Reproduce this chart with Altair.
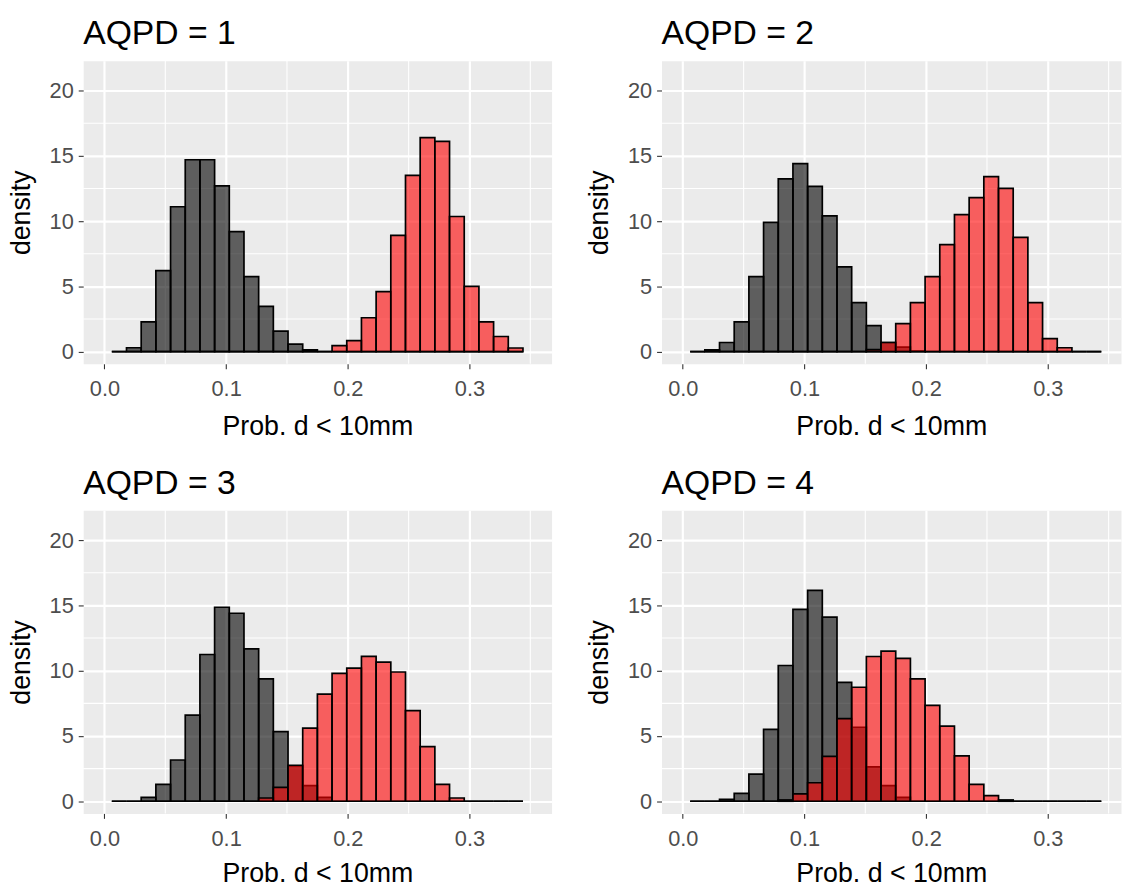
import altair as alt
import pandas as pd

FONT = "Liberation Sans"

# histogram: 30 bins over xlim(0, 0.35); the two end bins fall outside the limits -> 28 bars
BIN_WIDTH = 0.35 / 29
BIN_INDEX = list(range(1, 29))

X_TICKS = [0.0, 0.1, 0.2, 0.3]
X_MINOR = [0.05, 0.15, 0.25, 0.35]
Y_TICKS = [0, 5, 10, 15, 20]
Y_MINOR = [2.5, 7.5, 12.5, 17.5]

titles = ["AQPD = 1", "AQPD = 2", "AQPD = 3", "AQPD = 4"]

black_1 = [0, 0.3, 2.28, 6.2, 11.1, 14.7, 14.7, 12.7, 9.2, 5.75, 3.47, 1.57, 0.58, 0.13,
           0, 0, 0, 0, 0, 0, 0, 0, 0, 0, 0, 0, 0, 0]
red_1 = [0, 0, 0, 0, 0, 0, 0, 0, 0, 0, 0, 0, 0, 0, 0,
         0.46, 0.84, 2.6, 4.6, 8.9, 13.5, 16.4, 16.1, 10.35, 5.0, 2.28, 1.16, 0.28]

black_2 = [0, 0.13, 0.7, 2.28, 5.75, 9.9, 13.24, 14.4, 12.66, 10.4, 6.5, 3.75, 2.0, 0.7,
           0.35, 0.05, 0, 0, 0, 0, 0, 0, 0, 0, 0, 0, 0, 0]
red_2 = [0, 0, 0, 0, 0, 0, 0, 0, 0, 0, 0, 0, 0.15, 0.7, 2.15, 3.75, 5.75, 8.2, 10.5,
         11.8, 13.4, 12.5, 8.76, 3.75, 1.0, 0.3, 0, 0]

black_3 = [0, 0, 0.3, 1.3, 3.16, 6.6, 11.24, 14.86, 14.4, 11.67, 9.37, 5.34, 2.7, 1.2,
           0.3, 0, 0, 0, 0, 0, 0, 0, 0, 0, 0, 0, 0, 0]
red_3 = [0, 0, 0, 0, 0, 0, 0, 0, 0, 0, 0.25, 1.06, 2.76, 5.6, 8.2, 9.8, 10.2, 11.1,
         10.66, 9.9, 6.94, 4.18, 1.3, 0.25, 0, 0, 0, 0]

black_4 = [0, 0, 0.15, 0.6, 2.08, 5.5, 10.4, 14.7, 16.15, 14.1, 9.1, 5.67, 2.63, 1.2,
           0.3, 0, 0, 0, 0, 0, 0, 0.1, 0, 0, 0, 0, 0, 0]
red_4 = [0, 0, 0, 0, 0, 0, 0.1, 0.56, 1.42, 3.44, 6.33, 8.73, 11.09, 11.5, 10.94, 9.37,
         7.34, 5.75, 3.47, 1.29, 0.43, 0, 0, 0, 0, 0, 0, 0]

blacks = [black_1, black_2, black_3, black_4]
reds = [red_1, red_2, red_3, red_4]

X_MIN = -0.0175
PX_PER_UNIT = 473 / 0.385
LEFT_W = 473
RIGHT_W = 464
Y_DOMAIN = [-0.93, 22.28]
PANEL_H = 306


def make_panel(idx):
    right = idx % 2 == 1
    bottom_row = idx >= 2
    width = RIGHT_W if right else LEFT_W
    xmax = X_MIN + width / PX_PER_UNIT
    lo = [(i - 0.5) * BIN_WIDTH for i in BIN_INDEX]
    hi = [(i + 0.5) * BIN_WIDTH for i in BIN_INDEX]
    df = pd.DataFrame({"lo": lo, "hi": hi, "black": blacks[idx], "red": reds[idx]})

    xscale = alt.Scale(domain=[X_MIN, xmax], nice=False, zero=False)
    yscale = alt.Scale(domain=Y_DOMAIN, nice=False, zero=False)

    xaxis = alt.Axis(orient="bottom", values=X_TICKS, format=".1f", title="Prob. d < 10mm",
                     grid=True, gridColor="white", gridWidth=2.2, domain=False,
                     tickColor="#333333", tickWidth=1.1, tickSize=5,
                     labelColor="#4D4D4D", labelFontSize=22, labelFont=FONT, labelPadding=10,
                     titleFont=FONT, titleFontSize=27, titleColor="black",
                     titleFontWeight="normal", titlePadding=12 if bottom_row else 14)
    yaxis = alt.Axis(orient="left", values=Y_TICKS, title="density",
                     grid=True, gridColor="white", gridWidth=2.2, domain=False,
                     tickColor="#333333", tickWidth=1.1, tickSize=5,
                     labelColor="#4D4D4D", labelFontSize=22, labelFont=FONT, labelPadding=5,
                     titleFont=FONT, titleFontSize=27, titleColor="black",
                     titleFontWeight="normal", titlePadding=14)

    minor_x = alt.Chart(pd.DataFrame({"v": X_MINOR})).mark_rule(
        color="white", strokeWidth=1.1).encode(x=alt.X("v:Q", scale=xscale, axis=xaxis))
    minor_y = alt.Chart(pd.DataFrame({"v": Y_MINOR})).mark_rule(
        color="white", strokeWidth=1.1).encode(y=alt.Y("v:Q", scale=yscale, axis=yaxis))

    base = alt.Chart(df)
    black = base.mark_rect(fill="black", fillOpacity=0.6, stroke="black",
                           strokeWidth=1.7).encode(
        x=alt.X("lo:Q", scale=xscale, axis=xaxis),
        x2="hi:Q",
        y=alt.Y("black:Q", scale=yscale, axis=yaxis),
        y2=alt.datum(0),
    )
    red = base.mark_rect(fill="red", fillOpacity=0.6, stroke="black",
                         strokeWidth=1.7).encode(
        x=alt.X("lo:Q", scale=xscale, axis=xaxis),
        x2="hi:Q",
        y=alt.Y("red:Q", scale=yscale, axis=yaxis),
        y2=alt.datum(0),
    )

    return alt.layer(minor_x, minor_y, black, red).properties(
        width=width, height=PANEL_H,
        title=alt.TitleParams(text=titles[idx], anchor="start", frame="group",
                              fontSize=34, font=FONT, fontWeight="normal",
                              color="black", offset=9),
    )


row1 = alt.hconcat(make_panel(0), make_panel(1), spacing=32)
row2 = alt.hconcat(make_panel(2), make_panel(3), spacing=32)
chart = alt.vconcat(row1, row2, spacing=26).properties(
    padding={"left": 7, "top": 12, "right": 0, "bottom": 0},
    background="white",
).configure_view(fill="#EBEBEB", stroke="transparent")

chart.save("out.html", embed_options={"renderer": "svg", "actions": False})
